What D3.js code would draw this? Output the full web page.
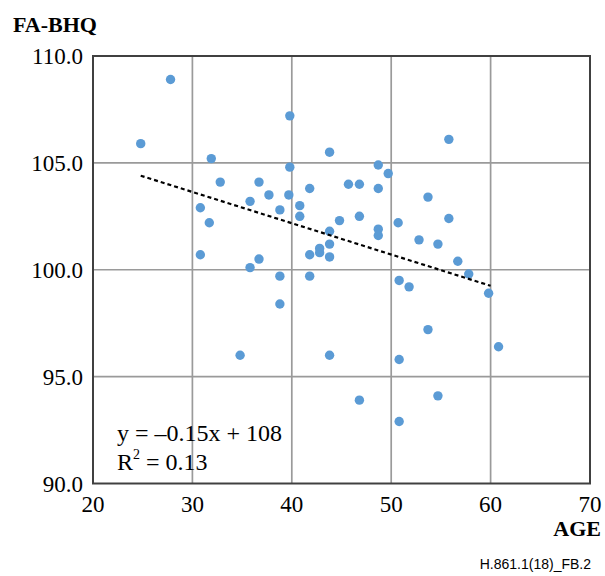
<!DOCTYPE html>
<html>
<head>
<meta charset="utf-8">
<script src="https://cdn.jsdelivr.net/npm/d3@7"></script>
<style>
  body { margin: 0; background: #fff; }
  svg { display: block; }
</style>
</head>
<body>
<div id="plot"></div>
<script>
// Values
const age = [27.8, 24.8, 39.8, 31.9, 43.8, 39.8, 32.8, 36.7, 37.7, 39.7, 41.8, 45.7, 46.8,
  35.8, 30.8, 38.8, 40.8, 40.8, 31.7, 44.8, 43.8, 43.8, 42.8, 42.8, 41.8, 43.8, 30.8,
  36.7, 35.8, 38.8, 41.8, 38.8, 34.8, 43.8, 55.8, 48.7, 49.7, 48.7, 53.7, 46.8, 50.7,
  48.7, 48.7, 52.8, 54.7, 56.7, 57.8, 50.8, 51.8, 59.8, 53.7, 60.8, 50.8, 46.8, 54.7,
  50.8, 55.8];
const fabhq = [108.9, 105.9, 107.2, 105.2, 105.5, 104.8, 104.1, 104.1, 103.5, 103.5, 103.8, 104.0, 104.0,
  103.2, 102.9, 102.8, 103.0, 102.5, 102.2, 102.3, 101.8, 101.2, 101.0, 100.8, 100.7, 100.6, 100.7,
  100.5, 100.1, 99.7, 99.7, 98.4, 96.0, 96.0, 106.1, 104.9, 104.5, 103.8, 103.4, 102.5, 102.2,
  101.9, 101.6, 101.4, 101.2, 100.4, 99.8, 99.5, 99.2, 98.9, 97.2, 96.4, 95.8, 93.9, 94.1,
  92.9, 102.4];
const xTicks = [20, 30, 40, 50, 60, 70];
const yTicks = [90, 95, 100, 105, 110];
// trend line: y = -0.15x + 108 as drawn
const trendX = [24.8, 60];
const trendY = [104.4, 99.25];
const equation = ["y = \u20130.15x + 108", "R", "2", " = 0.13"];

const width = 605, height = 576;

const svg = d3.select("#plot").append("svg")
  .attr("width", width)
  .attr("height", height);

const x = d3.scaleLinear().domain([20, 70]).range([93, 590]);
const y = d3.scaleLinear().domain([90, 110]).range([483.5, 56]);

// grid
svg.append("g")
  .selectAll("line")
  .data(xTicks.slice(1, -1))
  .enter().append("line")
  .attr("x1", d => x(d)).attr("x2", d => x(d))
  .attr("y1", y(110)).attr("y2", y(90))
  .attr("stroke", "#9a9a9a").attr("stroke-width", 1.7);

svg.append("g")
  .selectAll("line")
  .data(yTicks.slice(1, -1))
  .enter().append("line")
  .attr("x1", x(20)).attr("x2", x(70))
  .attr("y1", d => y(d)).attr("y2", d => y(d))
  .attr("stroke", "#9a9a9a").attr("stroke-width", 1.7);

// frame
svg.append("rect")
  .attr("x", x(20)).attr("y", y(110))
  .attr("width", x(70) - x(20)).attr("height", y(90) - y(110))
  .attr("fill", "none")
  .attr("stroke", "#404040").attr("stroke-width", 2);

// tick labels
const serif = "'Liberation Serif', 'Times New Roman', serif";
svg.append("g")
  .selectAll("text")
  .data(yTicks)
  .enter().append("text")
  .attr("x", 83)
  .attr("y", d => y(d) + 8)
  .attr("text-anchor", "end")
  .style("font-family", serif)
  .style("font-size", "23px")
  .text(d => d.toFixed(1));

svg.append("g")
  .selectAll("text")
  .data(xTicks)
  .enter().append("text")
  .attr("x", d => x(d))
  .attr("y", 512)
  .attr("text-anchor", "middle")
  .style("font-family", serif)
  .style("font-size", "23px")
  .text(d => d);

// axis titles
svg.append("text")
  .attr("x", 13).attr("y", 32)
  .style("font-family", serif)
  .style("font-size", "22px")
  .style("font-weight", "bold")
  .text("FA-BHQ");

svg.append("text")
  .attr("x", 601).attr("y", 536)
  .attr("text-anchor", "end")
  .style("font-family", serif)
  .style("font-size", "22px")
  .style("font-weight", "bold")
  .text("AGE");

// points
svg.append("g")
  .selectAll("circle")
  .data(age.map((a, i) => [a, fabhq[i]]))
  .enter().append("circle")
  .attr("cx", d => x(d[0]))
  .attr("cy", d => y(d[1]))
  .attr("r", 4.7)
  .attr("fill", "#5b9bd5");

// trend line
svg.append("line")
  .attr("x1", x(trendX[0])).attr("y1", y(trendY[0]))
  .attr("x2", x(trendX[1])).attr("y2", y(trendY[1]))
  .attr("stroke", "#000")
  .attr("stroke-width", 2.2)
  .attr("stroke-dasharray", "4,3");

// equation
svg.append("text")
  .attr("x", 117).attr("y", 441)
  .style("font-family", serif)
  .style("font-size", "24px")
  .text(equation[0]);

const r2 = svg.append("text")
  .attr("x", 117).attr("y", 470)
  .style("font-family", serif)
  .style("font-size", "24px");
r2.append("tspan").text(equation[1]);
r2.append("tspan").attr("dy", -11).style("font-size", "14px").text(equation[2]);
r2.append("tspan").attr("dy", 11).text(equation[3]);

// footer
svg.append("text")
  .attr("x", 591).attr("y", 569)
  .attr("text-anchor", "end")
  .style("font-family", "'Liberation Sans', Arial, sans-serif")
  .style("font-size", "14px")
  .text("H.861.1(18)_FB.2");
</script>
</body>
</html>
